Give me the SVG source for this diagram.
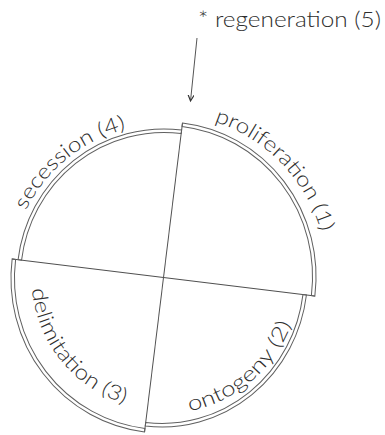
<svg xmlns="http://www.w3.org/2000/svg" xmlns:xlink="http://www.w3.org/1999/xlink" width="385" height="435" viewBox="0 0 385 435">
<style>
.band{fill:none;stroke:#606060;stroke-width:1}
.div{fill:none;stroke:#505050;stroke-width:1}
.lbl{font-family:Lato,"DejaVu Sans","Liberation Sans",sans-serif;font-size:21px;fill:#2e2e2e;font-weight:300}
.conn{fill:none;stroke:#555;stroke-width:1}
</style>
<defs>
<marker id="arr" markerWidth="8" markerHeight="8" refX="6" refY="3" orient="auto" markerUnits="userSpaceOnUse">
<path d="M0,0 L6,3 L0,6" fill="none" stroke="#333" stroke-width="1.2"/>
</marker>
<path id="tp1" d="M31.3,-161 A164,164 0 0 1 151,-64.1"/>
<path id="tp4" d="M-144.7,-49.8 A153,153 0 0 1 -54.8,-142.8"/>
<path id="tp2" d="M42,129.3 A136,136 0 0 0 132.5,30.6"/>
<path id="tp3" d="M-129.1,27.4 A132,132 0 0 0 -22.9,130"/>
</defs>
<rect width="385" height="435" fill="#fff"/>
<g transform="translate(163.5,277.5) rotate(7)">
<g id="dividers">
<line class="div" x1="0" y1="-155.7" x2="0" y2="155.6"/>
<line class="div" x1="-152.5" y1="0" x2="152.5" y2="0"/>
</g>
<g id="proliferation">
<path class="band" d="M0,-155.7 A152.5,155.7 0 0 1 152.5,0 L149,0 A149,152.2 0 0 0 0,-152.2 Z"/>
<text class="lbl"><textPath xlink:href="#tp1" href="#tp1" textLength="160" lengthAdjust="spacingAndGlyphs">proliferation (1)</textPath></text>
</g>
<g id="secession">
<path class="band" d="M-146.5,0 A146.5,148.6 0 0 1 0,-148.6 L0,-145.1 A143,145.1 0 0 0 -143,0 Z"/>
<text class="lbl"><textPath xlink:href="#tp4" href="#tp4" textLength="133" lengthAdjust="spacingAndGlyphs">secession (4)</textPath></text>
</g>
<g id="ontogeny">
<path class="band" d="M144,0 A144,149.5 0 0 1 0,149.5 L0,146 A140.5,146 0 0 0 140.5,0 Z"/>
<text class="lbl"><textPath xlink:href="#tp2" href="#tp2" textLength="140" lengthAdjust="spacingAndGlyphs">ontogeny (2)</textPath></text>
</g>
<g id="delimitation">
<path class="band" d="M0,155.6 A152.5,155.6 0 0 1 -152.5,0 L-149,0 A149,152.1 0 0 0 0,152.1 Z"/>
<text class="lbl"><textPath xlink:href="#tp3" href="#tp3" textLength="156" lengthAdjust="spacingAndGlyphs">delimitation (3)</textPath></text>
</g>
</g>
<g id="regeneration">
<text class="lbl" x="198" y="27" textLength="183" lengthAdjust="spacingAndGlyphs">* regeneration (5)</text>
</g>
<g id="connectors">
<line class="conn" x1="197" y1="38" x2="190.5" y2="101" marker-end="url(#arr)"/>
</g>
</svg>
